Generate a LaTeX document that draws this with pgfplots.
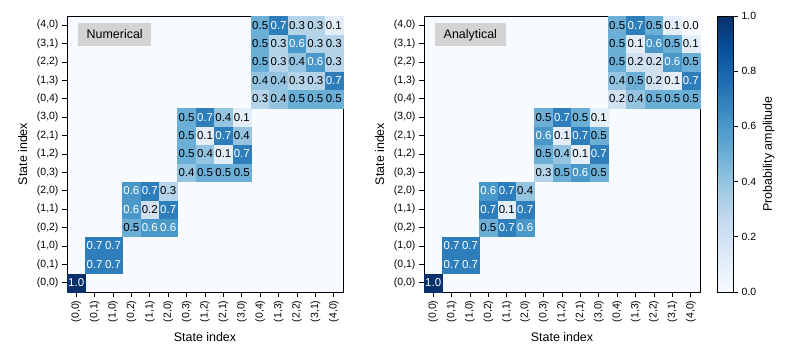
\documentclass[border=0pt]{standalone}
\usepackage{pgfplots}
\usepackage{pgfplotstable}
\pgfplotsset{compat=1.18}
\usepackage{fontspec}
\setmainfont{Liberation Sans}
\definecolor{bg}{RGB}{247,251,255}
\definecolor{boxgray}{RGB}{211,211,211}

% c = 1: white annotation, c = 0: black annotation
\pgfplotstableread{
x y v c
0 0 1.0 1
1 1 0.7 1
2 1 0.7 1
1 2 0.7 1
2 2 0.7 1
3 3 0.5 0
4 3 0.6 1
5 3 0.6 1
3 4 0.6 1
4 4 0.2 0
5 4 0.7 1
3 5 0.6 1
4 5 0.7 1
5 5 0.3 0
6 6 0.4 0
7 6 0.5 0
8 6 0.5 0
9 6 0.5 0
6 7 0.5 0
7 7 0.4 0
8 7 0.1 0
9 7 0.7 1
6 8 0.5 0
7 8 0.1 0
8 8 0.7 1
9 8 0.4 0
6 9 0.5 0
7 9 0.7 1
8 9 0.4 0
9 9 0.1 0
10 10 0.3 0
11 10 0.4 0
12 10 0.5 0
13 10 0.5 0
14 10 0.5 0
10 11 0.4 0
11 11 0.4 0
12 11 0.3 0
13 11 0.3 0
14 11 0.7 1
10 12 0.5 0
11 12 0.3 0
12 12 0.4 0
13 12 0.6 1
14 12 0.3 0
10 13 0.5 0
11 13 0.3 0
12 13 0.6 1
13 13 0.3 0
14 13 0.3 0
10 14 0.5 0
11 14 0.7 1
12 14 0.3 0
13 14 0.3 0
14 14 0.1 0
}\numtab

\pgfplotstableread{
x y v c
0 0 1.0 1
1 1 0.7 1
2 1 0.7 1
1 2 0.7 1
2 2 0.7 1
3 3 0.5 0
4 3 0.7 1
5 3 0.6 1
3 4 0.7 1
4 4 0.1 0
5 4 0.7 1
3 5 0.6 1
4 5 0.7 1
5 5 0.4 0
6 6 0.3 0
7 6 0.5 0
8 6 0.6 1
9 6 0.5 0
6 7 0.5 0
7 7 0.4 0
8 7 0.1 0
9 7 0.7 1
6 8 0.6 1
7 8 0.1 0
8 8 0.7 1
9 8 0.5 0
6 9 0.5 0
7 9 0.7 1
8 9 0.5 0
9 9 0.1 0
10 10 0.2 0
11 10 0.4 0
12 10 0.5 0
13 10 0.5 0
14 10 0.5 0
10 11 0.4 0
11 11 0.5 0
12 11 0.2 0
13 11 0.1 0
14 11 0.7 1
10 12 0.5 0
11 12 0.2 0
12 12 0.2 0
13 12 0.6 1
14 12 0.5 0
10 13 0.5 0
11 13 0.1 0
12 13 0.6 1
13 13 0.5 0
14 13 0.1 0
10 14 0.5 0
11 14 0.7 1
12 14 0.5 0
13 14 0.1 0
14 14 0.0 0
}\anatab

\tikzset{
  tbox/.style={fill=boxgray, anchor=north west, inner xsep=8.5bp, inner ysep=6bp,
    text height=9bp, text depth=2bp, font=\fontsize{12.5}{14}\selectfont,
    xshift=11bp, yshift=-7bp},
}
\pgfplotsset{
  colormap={blues}{rgb255=(247,251,255) rgb255=(222,235,247) rgb255=(198,219,239) rgb255=(158,202,225) rgb255=(107,174,214) rgb255=(66,146,198) rgb255=(33,113,181) rgb255=(8,81,156) rgb255=(8,48,107)},
  common/.style={
    scale only axis,
    tick align=outside, major tick length=5bp,
    every tick/.style={black, line width=0.8bp},
    axis line style={line width=0.8bp},
    tick label style={font=\fontsize{10.5}{12}\selectfont},
    label style={font=\fontsize{12.5}{14}\selectfont},
    point meta min=0, point meta max=1,
    colormap name=blues,
    axis on top,
  },
  hm/.style={
    common, width=276bp, height=276bp,
    xmin=-0.5, xmax=14.5, ymin=-0.5, ymax=14.5,
    xtick={0,...,14}, ytick={0,...,14},
    xticklabels={{(0,0)},{(0,1)},{(1,0)},{(0,2)},{(1,1)},{(2,0)},{(0,3)},{(1,2)},{(2,1)},{(3,0)},{(0,4)},{(1,3)},{(2,2)},{(3,1)},{(4,0)}},
    yticklabels={{(0,0)},{(0,1)},{(1,0)},{(0,2)},{(1,1)},{(2,0)},{(0,3)},{(1,2)},{(2,1)},{(3,0)},{(0,4)},{(1,3)},{(2,2)},{(3,1)},{(4,0)}},
    xticklabel style={rotate=90, anchor=east},
    xtick pos=bottom, ytick pos=left,
    xlabel={State index}, ylabel={State index},
    xlabel shift=4bp, ylabel shift=3bp,
    axis background/.style={fill=bg},
  },
  hmcells/.style={scatter, only marks, mark=square*, mark size=9bp, point meta=explicit,
    scatter/use mapped color={draw=mapped color, fill=mapped color},
    mark options={line width=0.4bp}},
  hmlabs/.style={only marks, mark=none, point meta=explicit symbolic, nodes near coords,
    nodes near coords style={anchor=center, inner sep=0pt, font=\fontsize{11.5}{13}\selectfont, text=#1}},
  onlywhite/.style={x filter/.expression={\thisrow{c}>0.5 ? x : nan}},
  onlyblack/.style={x filter/.expression={\thisrow{c}<0.5 ? x : nan}},
}

\begin{document}
\begin{tikzpicture}
\path[use as bounding box] (0,0) rectangle (792bp,350bp);
\begin{axis}[hm, at={(67bp,58bp)}, anchor=south west]
\addplot[hmcells] table[x=x, y=y, meta=v] {\numtab};
\addplot[hmlabs=white, onlywhite] table[x=x, y=y, meta=v] {\numtab};
\addplot[hmlabs=black, onlyblack] table[x=x, y=y, meta=v] {\numtab};
\node[tbox] at (rel axis cs:0,1) {Numerical};
\end{axis}
\begin{axis}[hm, at={(424bp,58bp)}, anchor=south west]
\addplot[hmcells] table[x=x, y=y, meta=v] {\anatab};
\addplot[hmlabs=white, onlywhite] table[x=x, y=y, meta=v] {\anatab};
\addplot[hmlabs=black, onlyblack] table[x=x, y=y, meta=v] {\anatab};
\node[tbox] at (rel axis cs:0,1) {Analytical};
\end{axis}
\begin{axis}[common, at={(717bp,58bp)}, anchor=south west, width=16bp, height=276bp,
  xmin=0, xmax=1, ymin=0, ymax=1, xtick=\empty,
  ytick={0,0.2,0.4,0.6,0.8,1},
  ytick pos=right, yticklabel pos=right,
  yticklabel style={/pgf/number format/.cd, fixed, fixed zerofill, precision=1, assume math mode=true},
  ylabel={Probability amplitude}]
\addplot[surf, shader=interp, point meta=y, mesh/cols=2] coordinates {
(0,0) (1,0)
(0,0.125) (1,0.125)
(0,0.25) (1,0.25)
(0,0.375) (1,0.375)
(0,0.5) (1,0.5)
(0,0.625) (1,0.625)
(0,0.75) (1,0.75)
(0,0.875) (1,0.875)
(0,1) (1,1)
};
\end{axis}
\end{tikzpicture}
\end{document}
